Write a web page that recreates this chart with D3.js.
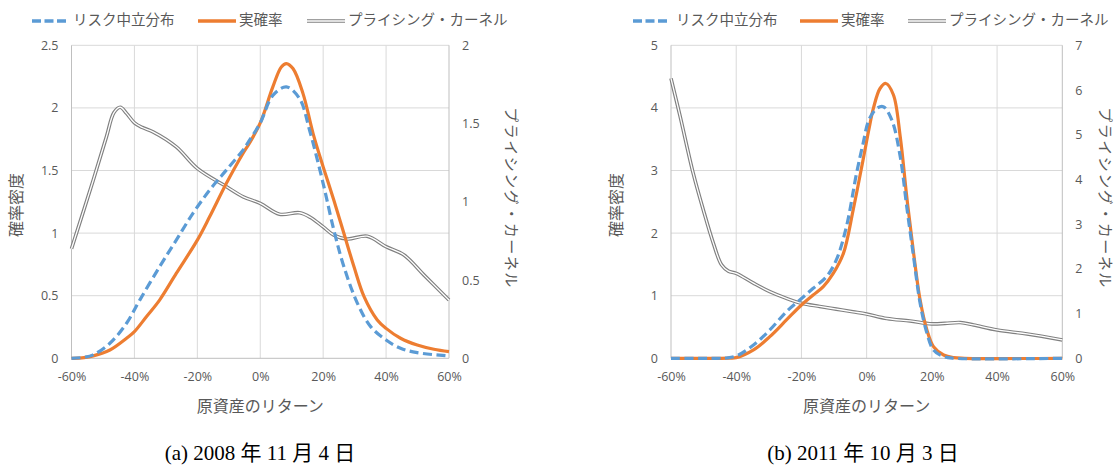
<!DOCTYPE html>
<html><head><meta charset="utf-8">
<script src="https://cdn.jsdelivr.net/npm/d3@7"></script>
<style>body{margin:0;background:#fff} svg{display:block}</style>
</head><body><svg id="c" width="1118" height="465"></svg>
<script>
// ---------- DATA ----------
const xTicks = [-60, -40, -20, 0, 20, 40, 60];
const seriesNames = ["リスク中立分布", "実確率", "プライシング・カーネル"];
const yTitle = "確率密度";
const y2Title = "プライシング・カーネル";
const xTitle = "原資産のリターン";
const captions = ["(a) 2008 年 11 月 4 日", "(b) 2011 年 10 月 3 日"];

// Panel (a) 2008-11-04 : [return %, value]
const riskNeutralA = [[-60,0],[-56,0.008],[-53.1,0.027],[-47.8,0.12],[-42.5,0.28],[-38.3,0.465],[-32,0.731],[-26.7,0.944],[-21.4,1.157],[-16.1,1.343],[-10.8,1.503],[-5.5,1.662],[-3.4,1.742],[0,1.88],[4,2.10],[8.3,2.168],[12.5,2.074],[15.7,1.82],[20,1.396],[23.4,1.024],[26.6,0.731],[30.9,0.439],[35.1,0.253],[40,0.146],[44.6,0.08],[49.9,0.045],[60,0.019]];
const physicalA = [[-60,0],[-56,0.006],[-53.1,0.019],[-47.8,0.066],[-42.5,0.16],[-40,0.213],[-36.2,0.332],[-32,0.465],[-26.7,0.678],[-20,0.944],[-16.1,1.13],[-10.8,1.396],[-5.5,1.636],[-3.4,1.72],[0,1.88],[4,2.168],[6.7,2.327],[8.3,2.354],[10.4,2.314],[13.6,2.114],[16.8,1.795],[20,1.529],[23.4,1.263],[26.6,0.997],[29.8,0.731],[33,0.492],[37.2,0.306],[40,0.239],[44.6,0.16],[49.9,0.106],[55.2,0.072],[60,0.053]];
const kernelA = [[-60,0.70],[-53.1,1.138],[-48.9,1.415],[-46.5,1.57],[-44.5,1.604],[-42.5,1.565],[-40,1.505],[-37.5,1.475],[-34.1,1.447],[-26.7,1.351],[-20,1.213],[-10.7,1.096],[-5.4,1.032],[0,0.99],[6.1,0.921],[12.5,0.93],[16,0.9],[20,0.84],[23.4,0.787],[27.6,0.762],[34,0.78],[40,0.713],[45.7,0.66],[52,0.533],[60,0.372]];
const yTicksA = [0, 0.5, 1, 1.5, 2, 2.5];
const y2TicksA = [0, 0.5, 1, 1.5, 2];

// Panel (b) 2011-10-03
const riskNeutralB = [[-60,0],[-46,0],[-43,0.005],[-40,0.037],[-34.7,0.213],[-29.7,0.453],[-24.6,0.745],[-20.5,0.932],[-16.4,1.118],[-12.3,1.305],[-9.3,1.571],[-6.2,2.103],[-3.1,2.955],[-1.1,3.43],[0.7,3.81],[3.1,3.99],[5.1,4.02],[7.7,3.81],[10.3,3.22],[12.3,2.42],[14.4,1.62],[16.4,0.88],[18.5,0.40],[20.5,0.133],[23.6,0.027],[27,0],[60,0]];
const physicalB = [[-60,0],[-45,0],[-42,0.003],[-40,0.01],[-34.7,0.133],[-29.7,0.346],[-24.6,0.612],[-20,0.852],[-16.4,1.01],[-13.3,1.145],[-10.2,1.36],[-7.1,1.68],[-4.1,2.38],[-1.1,3.17],[0.7,3.66],[2.1,4.0],[4.1,4.31],[5.9,4.39],[8.2,4.21],[10.3,3.54],[12.3,2.58],[14.4,1.68],[16.4,0.93],[18.5,0.45],[20.5,0.186],[23.6,0.053],[26.7,0.01],[30,0],[60,0]];
const kernelB = [[-60,6.26],[-57.2,5.41],[-53.2,4.14],[-50.1,3.32],[-47,2.57],[-44.5,2.09],[-42.4,1.95],[-40,1.90],[-34.7,1.68],[-29.7,1.49],[-24.6,1.34],[-20,1.23],[-14.4,1.16],[-9.3,1.10],[-4.2,1.04],[0,0.99],[6.2,0.89],[13.3,0.835],[20,0.77],[24,0.78],[28.7,0.80],[32.8,0.746],[40,0.634],[49.2,0.544],[60,0.41]];
const yTicksB = [0, 1, 2, 3, 4, 5];
const y2TicksB = [0, 1, 2, 3, 4, 5, 6, 7];

// ---------- DRAW ----------
const svg = d3.select("#c");
const C_BLUE = "#5B9BD5", C_ORANGE = "#ED7D31", C_GRAY = "#808080";
const C_GRID = "#d9d9d9", C_AXIS = "#bfbfbf", C_TEXT = "#595959";
const JP = "'Noto Sans CJK JP','Noto Sans',sans-serif";
const NUM = "'Open Sans','Noto Sans',sans-serif";

function panel(cfg) {
  const g = svg.append("g");
  const x = d3.scaleLinear().domain([-60, 60]).range([cfg.x0, cfg.x1]);
  const y = d3.scaleLinear().domain([0, d3.max(cfg.yTicks)]).range([358.3, 45.3]);
  const y2 = d3.scaleLinear().domain([0, d3.max(cfg.y2Ticks)]).range([358.3, 45.3]);

  // gridlines
  g.append("g").selectAll("line.h").data(cfg.yTicks.filter(d => d > 0)).join("line")
    .attr("x1", cfg.x0).attr("x2", cfg.x1).attr("y1", d => y(d)).attr("y2", d => y(d))
    .attr("stroke", C_GRID).attr("stroke-width", 1);
  g.append("g").selectAll("line.v").data(xTicks.filter(d => d > -60 && d < 60)).join("line")
    .attr("x1", d => x(d)).attr("x2", d => x(d)).attr("y1", y.range()[1]).attr("y2", y.range()[0])
    .attr("stroke", C_GRID).attr("stroke-width", 1);
  // axis lines
  [[cfg.x0, cfg.x0], [cfg.x1, cfg.x1]].forEach(([a, b]) =>
    g.append("line").attr("x1", a).attr("x2", b).attr("y1", 45.3).attr("y2", 358.3)
      .attr("stroke", C_AXIS).attr("stroke-width", 1));
  g.append("line").attr("x1", cfg.x0).attr("x2", cfg.x1).attr("y1", 358.3).attr("y2", 358.3)
    .attr("stroke", C_AXIS).attr("stroke-width", 1);

  // axes via d3
  const axL = g.append("g").attr("transform", `translate(${cfg.x0},0)`)
    .call(d3.axisLeft(y).tickValues(cfg.yTicks).tickSize(0).tickPadding(13).tickFormat(d3.format("")));
  const axR = g.append("g").attr("transform", `translate(${cfg.x1},0)`)
    .call(d3.axisRight(y2).tickValues(cfg.y2Ticks).tickSize(0).tickPadding(13).tickFormat(d3.format("")));
  const axB = g.append("g").attr("transform", `translate(0,358.3)`)
    .call(d3.axisBottom(x).tickValues(xTicks).tickSize(0).tickPadding(14).tickFormat(d => d + "%"));
  [axL, axR, axB].forEach(a => {
    a.select(".domain").remove();
    a.selectAll("text").attr("fill", C_TEXT).style("font-family", NUM).style("font-size", "12.5px");
  });

  // lines
  const line = (sc) => d3.line().x(d => x(d[0])).y(d => sc(d[1])).curve(d3.curveCatmullRom.alpha(0.5));
  g.append("path").datum(cfg.kernel).attr("d", line(y2)).attr("fill", "none")
    .attr("stroke", C_GRAY).attr("stroke-width", 3.6);
  g.append("path").datum(cfg.kernel).attr("d", line(y2)).attr("fill", "none")
    .attr("stroke", "#fff").attr("stroke-width", 1.3);
  g.append("path").datum(cfg.physical).attr("d", line(y)).attr("fill", "none")
    .attr("stroke", C_ORANGE).attr("stroke-width", 3.2).attr("stroke-linejoin", "round");
  g.append("path").datum(cfg.riskNeutral).attr("d", line(y)).attr("fill", "none")
    .attr("stroke", C_BLUE).attr("stroke-width", 3.2).attr("stroke-dasharray", "9,4.5");

  // axis titles
  const cx = (cfg.x0 + cfg.x1) / 2;
  g.append("text").attr("x", cx).attr("y", 408).attr("text-anchor", "middle").attr("dominant-baseline", "middle")
    .attr("fill", C_TEXT).style("font-family", JP).style("font-size", "16px").text(xTitle);
  g.append("text").attr("transform", `translate(${cfg.yTitleX},205) rotate(-90)`).attr("text-anchor", "middle")
    .attr("dominant-baseline", "middle").attr("fill", C_TEXT).style("font-family", JP).style("font-size", "16px").text(yTitle);
  g.append("text").attr("transform", `translate(${cfg.y2TitleX},198) rotate(90)`).attr("text-anchor", "middle")
    .attr("dominant-baseline", "middle").attr("fill", C_TEXT).style("font-family", JP).style("font-size", "15px")
    .style("letter-spacing", "1.5px").text(y2Title);

  // legend
  const ly = 21, L = cfg.legend;
  g.append("line").attr("x1", L[0]).attr("x2", L[0] + 34).attr("y1", ly).attr("y2", ly)
    .attr("stroke", C_BLUE).attr("stroke-width", 3.5).attr("stroke-dasharray", "9,3.5");
  g.append("line").attr("x1", L[2]).attr("x2", L[2] + 38).attr("y1", ly).attr("y2", ly)
    .attr("stroke", C_ORANGE).attr("stroke-width", 3.5);
  g.append("line").attr("x1", L[4]).attr("x2", L[4] + 38).attr("y1", ly).attr("y2", ly)
    .attr("stroke", C_GRAY).attr("stroke-width", 3.6);
  g.append("line").attr("x1", L[4]).attr("x2", L[4] + 38).attr("y1", ly).attr("y2", ly)
    .attr("stroke", "#fff").attr("stroke-width", 1.3);
  [[L[1], seriesNames[0]], [L[3], seriesNames[1]], [L[5], seriesNames[2]]].forEach(([tx, t]) =>
    g.append("text").attr("x", tx).attr("y", ly).attr("dominant-baseline", "middle")
      .attr("fill", C_TEXT).style("font-family", JP).style("font-size", "14.5px").text(t));

  // caption
  g.append("text").attr("x", cfg.capX).attr("y", 455).attr("text-anchor", "middle").attr("dominant-baseline", "middle")
    .attr("fill", "#000").style("font-family", "'Liberation Serif','DejaVu Serif','Noto Sans CJK JP',serif")
    .style("font-size", "21px").text(cfg.caption);
}

panel({x0: 71.5, x1: 449, yTicks: yTicksA, y2Ticks: y2TicksA, riskNeutral: riskNeutralA, physical: physicalA,
  kernel: kernelA, yTitleX: 18, y2TitleX: 510, legend: [32, 73, 198, 239, 307, 348], capX: 260, caption: captions[0]});
panel({x0: 671, x1: 1062.3, yTicks: yTicksB, y2Ticks: y2TicksB, riskNeutral: riskNeutralB, physical: physicalB,
  kernel: kernelB, yTitleX: 618, y2TitleX: 1104, legend: [633, 676, 800, 841, 908, 949], capX: 863, caption: captions[1]});
</script></body></html>
